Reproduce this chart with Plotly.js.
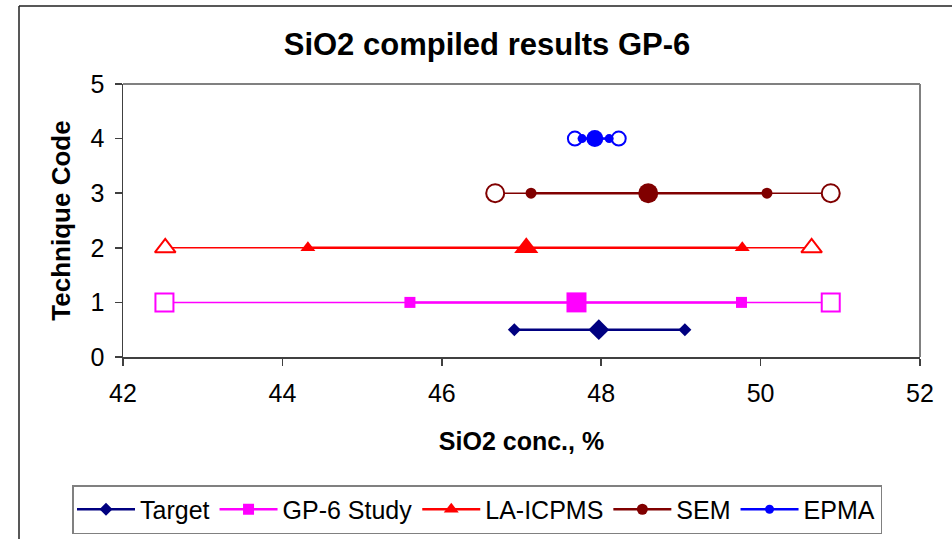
<!DOCTYPE html>
<html>
<head>
<meta charset="utf-8">
<script src="https://cdn.plot.ly/plotly-3.0.1.min.js"></script>
<style>
  html, body { margin: 0; padding: 0; background: #ffffff; }
  #chart { width: 952px; height: 539px; }
</style>
</head>
<body>
<div id="chart"></div>
<script>
// ---- data ----
const seriesNames   = ["Target", "GP-6 Study", "LA-ICPMS", "SEM", "EPMA"];
const techniqueCode = [0.5, 1, 2, 3, 4];
const meanValues    = [47.97, 47.69, 47.06, 48.59, 47.92];
const innerLow      = [46.91, 45.60, 44.32, 47.12, 47.76];
const innerHigh     = [49.05, 49.76, 49.77, 50.08, 48.10];
const outerLow      = [null, 42.52, 42.53, 46.67, 47.67];
const outerHigh     = [null, 50.88, 50.64, 50.88, 48.22];
const xTickValues   = [42, 44, 46, 48, 50, 52];
const yTickValues   = [0, 1, 2, 3, 4, 5];

// ---- styles ----
const colors   = ["#000080", "#FF00FF", "#FF0000", "#800000", "#0000FF"];
const symbols  = ["diamond", "square", "triangle-up", "circle", "circle"];
const smallSz  = [10, 11, 13, 11, 9];
const meanSz   = [16, 20, 21, 20, 17];
const openSz   = [0, 18, 18, 18, 14];
const FONT = "Liberation Sans, Arial, sans-serif";

const outerTraces = [], innerTraces = [], meanTraces = [];
for (let i = 0; i < seriesNames.length; i++) {
  if (outerLow[i] !== null) {
    outerTraces.push({
      type: "scatter", mode: "lines+markers",
      x: [outerLow[i], outerHigh[i]],
      y: [techniqueCode[i], techniqueCode[i]],
      line: { color: colors[i], width: 1.5 },
      marker: { symbol: symbols[i], size: openSz[i], color: "#ffffff",
                line: { color: colors[i], width: 2 } },
      showlegend: false, hoverinfo: "x+y", legendgroup: seriesNames[i]
    });
  }
  innerTraces.push({
    type: "scatter", mode: "lines+markers", name: seriesNames[i],
    x: [innerLow[i], innerHigh[i]],
    y: [techniqueCode[i], techniqueCode[i]],
    line: { color: colors[i], width: 2.5 },
    marker: { symbol: symbols[i], size: smallSz[i], color: colors[i] },
    showlegend: true, legendgroup: seriesNames[i]
  });
  meanTraces.push({
    type: "scatter", mode: "markers",
    x: [meanValues[i]], y: [techniqueCode[i]],
    marker: { symbol: symbols[i], size: meanSz[i], color: colors[i] },
    showlegend: false, legendgroup: seriesNames[i]
  });
}

const L = 123, R = 920, T = 84, B = 357, W = 952, H = 539;
const pw = R - L, ph = B - T;
const px = v => (v - L) / pw;
const py = v => (B - v) / ph;

const layout = {
  width: W, height: H,
  margin: { l: L, r: W - R, t: T, b: H - B, pad: 0, autoexpand: false },
  paper_bgcolor: "#ffffff", plot_bgcolor: "#ffffff",
  font: { family: FONT, color: "#000000", size: 25 },
  title: { text: "SiO2 compiled results GP-6", font: { family: FONT, size: 31, weight: "bold" },
           x: 487 / W, xref: "container", xanchor: "center", y: 1 - 44 / H, yref: "container", yanchor: "middle" },
  xaxis: {
    range: [42, 52], tickvals: xTickValues, ticktext: xTickValues.map(String),
    showgrid: false, zeroline: false, showline: true, linecolor: "#404040", linewidth: 1.5,
    ticks: "outside", ticklen: 7, tickcolor: "#404040", tickwidth: 1.5, ticklabelstandoff: 6,
    tickfont: { family: FONT, size: 25 },
    title: { text: "SiO2 conc., %", font: { family: FONT, size: 25, weight: "bold" }, standoff: 27 }
  },
  yaxis: {
    range: [0, 5], tickvals: yTickValues, ticktext: yTickValues.map(String),
    showgrid: false, zeroline: false, showline: true, linecolor: "#404040", linewidth: 1.5,
    ticks: "outside", ticklen: 7, tickcolor: "#404040", tickwidth: 1.5, ticklabelstandoff: 5,
    tickfont: { family: FONT, size: 25 },
    title: { text: "Technique Code", font: { family: FONT, size: 26, weight: "bold" }, standoff: 12 }
  },
  legend: {
    orientation: "h", x: px(72), y: py(485), xanchor: "left", yanchor: "top",
    bordercolor: "#808080", borderwidth: 1.5, bgcolor: "#ffffff",
    font: { family: FONT, size: 25 }, itemsizing: "trace", itemwidth: 58, tracegroupgap: 0
  },
  shapes: [
    { type: "line", xref: "paper", yref: "paper", x0: 0, x1: 1, y0: 1, y1: 1,
      line: { color: "#808080", width: 2 }, layer: "below" },
    { type: "line", xref: "paper", yref: "paper", x0: 1, x1: 1, y0: 0, y1: 1,
      line: { color: "#808080", width: 2 }, layer: "below" },
    { type: "line", xref: "paper", yref: "paper", x0: px(19), x1: px(960), y0: py(6), y1: py(6),
      line: { color: "#202020", width: 1.5 } },
    { type: "line", xref: "paper", yref: "paper", x0: px(19), x1: px(19), y0: py(6), y1: py(560),
      line: { color: "#202020", width: 1.5 } }
  ]
};

Plotly.newPlot("chart", outerTraces.concat(innerTraces, meanTraces), layout,
               { displayModeBar: false, staticPlot: true });
</script>
</body>
</html>
